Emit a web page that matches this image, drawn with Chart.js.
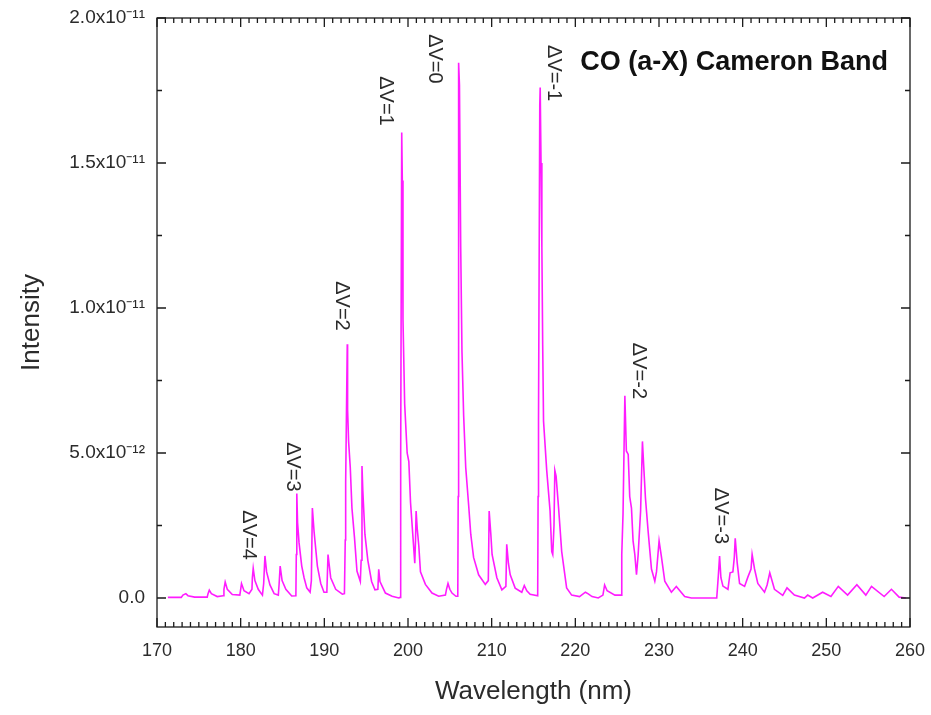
<!DOCTYPE html>
<html>
<head>
<meta charset="utf-8">
<script src="https://cdn.jsdelivr.net/npm/chart.js@4.4.0/dist/chart.umd.min.js"></script>
<style>
body{margin:0;background:#fff;}
#wrap{width:931px;height:715px;}
</style>
</head>
<body>
<div id="wrap"><canvas id="spec" width="931" height="715"></canvas></div>
<script>
// wavelength (nm) and intensity (x1e-12)
const wavelength = [
171.3,172.9,173.1,173.45,173.7,174.5,176.0,176.1,176.25,176.5,177.2,177.9,178.0,178.15,178.4,179.0,179.9,180.0,180.1,180.4,
181.0,181.35,181.4,181.5,181.7,182.1,182.6,182.75,182.9,183.1,183.5,184.0,184.5,184.6,184.72,184.95,185.4,186.1,186.6,
186.65,186.71,186.8,186.98,187.3,187.58,187.9,188.3,188.45,188.57,188.77,189.17,189.57,189.96,190.3,190.44,190.76,191.36,192.15,192.4,
192.5,192.55,192.74,192.78,192.9,193.1,193.3,193.6,193.9,194.3,194.4,194.5,194.6,194.85,195.2,195.65,196.05,196.4,196.5,196.65,197.3,198.1,198.9,199.05,
199.1,199.15,199.25,199.32,199.4,199.6,199.9,200.1,200.3,200.57,200.81,200.9,200.97,201.1,201.29,201.49,202.08,202.87,203.67,204.47,204.6,204.78,205.0,205.26,205.73,205.95,
206.0,206.02,206.05,206.08,206.15,206.3,206.45,206.65,206.9,207.25,207.5,207.84,208.44,209.24,209.6,209.7,209.9,210.05,210.62,211.22,211.7,211.8,212.0,212.22,212.81,213.6,213.9,214.2,214.6,215.5,
215.55,215.6,215.75,215.8,215.9,216.0,216.1,216.2,216.58,216.98,217.18,217.3,217.45,217.55,217.7,218.0,218.37,218.96,219.56,220.5,221.2,221.5,222.0,222.74,223.3,223.5,223.8,224.73,225.5,
225.55,225.7,225.92,226.1,226.32,226.5,226.71,226.9,227.11,227.31,227.51,227.8,228.02,228.2,228.38,228.7,229.1,229.5,229.7,230.01,230.3,230.69,231.48,232.07,233.07,233.86,236.9,
237.1,237.24,237.4,237.64,238.24,238.5,238.83,239.0,239.11,239.35,239.63,240.23,240.62,241.0,241.13,241.42,241.81,242.61,242.92,243.24,243.8,244.79,245.3,246.18,247.38,247.77,248.37,249.56,250.55,251.43,252.54,253.65,254.72,255.4,256.91,257.78,258.7,259.5
];
const intensity = [
0.02,0.02,0.1,0.15,0.08,0.03,0.03,0.15,0.27,0.15,0.05,0.08,0.3,0.55,0.3,0.12,0.1,0.3,0.5,0.25,
0.15,0.3,0.7,1.02,0.6,0.3,0.1,0.5,1.45,0.9,0.45,0.15,0.1,0.5,1.1,0.6,0.3,0.07,0.08,
1.5,3.6,2.6,1.9,1.1,0.7,0.35,0.2,0.6,3.1,2.3,1.1,0.5,0.2,0.2,1.5,0.7,0.3,0.13,0.15,
2.0,4.0,8.75,6.5,5.4,4.5,3.1,2.1,0.93,0.57,1.3,4.55,3.7,2.2,1.3,0.57,0.28,0.3,0.99,0.57,0.17,0.06,0.0,0.02,
3.4,4.9,16.05,14.4,9.6,6.7,5.0,4.7,3.3,2.2,1.2,2.0,3.0,2.4,1.8,0.9,0.47,0.17,0.06,0.1,0.3,0.5,0.3,0.17,0.06,0.06,
3.5,6.1,17.7,18.46,17.7,12.1,8.5,6.3,4.5,3.2,2.2,1.4,0.8,0.47,0.6,3.0,2.2,1.5,0.7,0.28,0.4,1.85,1.2,0.8,0.34,0.2,0.43,0.25,0.13,0.08,
3.5,6.1,17.0,17.6,15.0,12.1,8.7,6.1,4.4,3.0,1.6,1.5,2.5,4.4,4.2,3.1,1.6,0.35,0.1,0.05,0.2,0.15,0.05,0.0,0.1,0.45,0.25,0.1,0.1,
1.5,2.9,6.97,5.07,4.95,3.5,3.1,1.97,1.5,0.8,1.5,3.0,5.4,4.4,3.45,2.3,1.0,0.58,0.9,1.97,1.4,0.58,0.2,0.4,0.05,0.0,0.0,
0.8,1.45,0.7,0.41,0.3,0.87,0.9,1.4,2.06,1.2,0.5,0.4,0.72,1.0,1.5,1.0,0.5,0.2,0.45,0.87,0.3,0.09,0.35,0.1,0.0,0.1,0.0,0.2,0.05,0.4,0.1,0.46,0.1,0.4,0.05,0.3,0.03,0.0
];

// band annotations, anchored in data coordinates
const bandLabels = ['ΔV=4','ΔV=3','ΔV=2','ΔV=1','ΔV=0','ΔV=-1','ΔV=-2','ΔV=-3'];
const bandLabelX = [180.9,186.15,192.1,197.35,203.2,217.4,227.5,237.3];
const bandLabelY = [2.17,4.52,10.07,17.14,18.59,18.1,7.83,2.83];

const yTickValues = [0,5,10,15,20];
const yTickText = ['0.0','5.0x10⁻¹²','1.0x10⁻¹¹','1.5x10⁻¹¹','2.0x10⁻¹¹'];

const points = wavelength.map((w,i) => ({x:w, y:intensity[i]}));

const inkColor = '#2b2b2b';
const fontFam = '"Liberation Sans", Arial, sans-serif';

// box with inward ticks on all four sides + band labels + title
const framePlugin = {
  id:'frame',
  afterDatasetsDraw(chart){
    const {ctx, chartArea:a, scales:{x,y}} = chart;
    ctx.save();
    ctx.strokeStyle = '#1a1a1a';
    ctx.lineWidth = 1.3;
    ctx.strokeRect(a.left, a.top, a.right-a.left, a.bottom-a.top);
    ctx.beginPath();
    for(let v=170; v<=260; v++){
      const px = x.getPixelForValue(v);
      const len = (v%10===0) ? 9 : 5;
      ctx.moveTo(px, a.bottom); ctx.lineTo(px, a.bottom-len);
      ctx.moveTo(px, a.top); ctx.lineTo(px, a.top+len);
    }
    for(let v=0; v<=20; v+=2.5){
      const py = y.getPixelForValue(v);
      const len = (v%5===0) ? 9 : 5;
      ctx.moveTo(a.left, py); ctx.lineTo(a.left+len, py);
      ctx.moveTo(a.right, py); ctx.lineTo(a.right-len, py);
    }
    ctx.stroke();

    ctx.fillStyle = inkColor;
    ctx.font = '20px ' + fontFam;
    ctx.textAlign = 'center';
    ctx.textBaseline = 'middle';
    bandLabels.forEach((t,i) => {
      ctx.save();
      ctx.translate(x.getPixelForValue(bandLabelX[i]), y.getPixelForValue(bandLabelY[i]));
      ctx.rotate(Math.PI/2);
      ctx.fillText(t, 0, 0);
      ctx.restore();
    });

    ctx.fillStyle = '#111';
    ctx.font = 'bold 27px ' + fontFam;
    ctx.textAlign = 'left';
    ctx.fillText('CO (a-X) Cameron Band', x.getPixelForValue(220.6), y.getPixelForValue(18.45));
    ctx.restore();
  }
};

new Chart(document.getElementById('spec'), {
  type:'scatter',
  data:{
    datasets:[{
      data:points,
      showLine:true,
      borderColor:'#ff1cff',
      borderWidth:1.6,
      pointRadius:0,
      tension:0
    }]
  },
  options:{
    responsive:false,
    animation:false,
    layout:{padding:{top:18,right:21,bottom:0,left:0}},
    plugins:{legend:{display:false}, tooltip:{enabled:false}},
    scales:{
      x:{
        type:'linear', min:170, max:260,
        afterFit(s){ s.height = 88; s.paddingLeft = 0; s.paddingRight = 0; },
        grid:{display:false, drawTicks:false},
        border:{display:false},
        ticks:{stepSize:10, padding:13, color:inkColor, font:{size:18, family:fontFam}},
        title:{display:true, text:'Wavelength (nm)', color:inkColor, font:{size:26, family:fontFam}, padding:{top:0,bottom:8}}
      },
      y:{
        min:-1, max:20,
        afterFit(s){ s.width = 157; s.paddingTop = 0; s.paddingBottom = 0; },
        afterBuildTicks(s){ s.ticks = yTickValues.map(v => ({value:v})); },
        grid:{display:false, drawTicks:false},
        border:{display:false},
        ticks:{padding:12, color:inkColor, font:{size:19, family:fontFam},
          callback:(v) => yTickText[yTickValues.indexOf(v)]},
        title:{display:true, text:'Intensity', color:inkColor, font:{size:26, family:fontFam}, padding:{top:16,bottom:0}}
      }
    }
  },
  plugins:[framePlugin]
});
</script>
</body>
</html>
